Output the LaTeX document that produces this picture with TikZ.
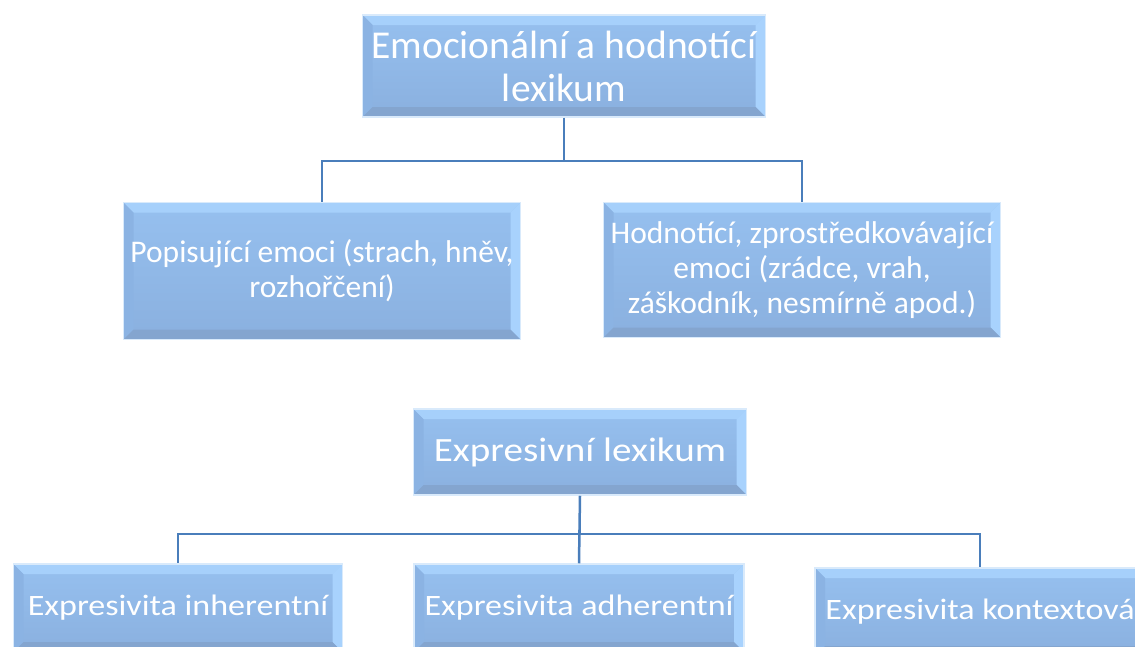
\documentclass[tikz,border=0pt]{standalone}
\usepackage{fontspec}
\setmainfont{Carlito}
\newfontfamily\widefont{Carlito}[FakeStretch=1.15]
\usetikzlibrary{calc}

\definecolor{boxtop}{HTML}{96C0EF}
\definecolor{boxbot}{HTML}{8AB0DF}
\definecolor{bevtop}{HTML}{A6D0FB}
\definecolor{bevleft}{HTML}{8BB3E3}
\definecolor{bevright}{HTML}{A8D2FD}
\definecolor{bevbot}{HTML}{84A5CF}
\definecolor{glowblue}{HTML}{D9EAFB}
\definecolor{linkblue}{HTML}{4A7EBB}

\tikzset{
  bevelbox/.style={rectangle, inner sep=0pt, align=center, text=white,
    top color=boxtop, bottom color=boxbot, draw=glowblue, line width=1.5pt,
    path picture={
      \fill[bevtop] (path picture bounding box.north west) -- (path picture bounding box.north east)
        -- ([shift={(-10pt,-10pt)}]path picture bounding box.north east)
        -- ([shift={(10pt,-10pt)}]path picture bounding box.north west) -- cycle;
      \fill[bevleft] (path picture bounding box.north west) -- (path picture bounding box.south west)
        -- ([shift={(10pt,10pt)}]path picture bounding box.south west)
        -- ([shift={(10pt,-10pt)}]path picture bounding box.north west) -- cycle;
      \fill[bevright] (path picture bounding box.north east) -- (path picture bounding box.south east)
        -- ([shift={(-10pt,10pt)}]path picture bounding box.south east)
        -- ([shift={(-10pt,-10pt)}]path picture bounding box.north east) -- cycle;
      \fill[bevbot] (path picture bounding box.south west) -- (path picture bounding box.south east)
        -- ([shift={(-10pt,10pt)}]path picture bounding box.south east)
        -- ([shift={(10pt,10pt)}]path picture bounding box.south west) -- cycle;
    }},
  bigtext/.style={font=\fontsize{39.5}{43}\selectfont},
  midtext/.style={font=\fontsize{31.5}{35}\selectfont},
  widebig/.style={font=\widefont\fontsize{34}{40}\selectfont},
  widemid/.style={font=\widefont\fontsize{29.6}{34}\selectfont},
  conn/.style={draw=linkblue, line width=2.5pt}
}

\begin{document}
\begin{tikzpicture}[x=1pt, y=-1pt]
  \useasboundingbox (0,0) rectangle (1135,646);
  \clip (0,0) rectangle (1135,646);

  % upper tree
  \node[bevelbox, bigtext, minimum width=403pt, minimum height=102pt] (emo) at (564,66)
    {Emocionální a hodnotící\\lexikum};
  \node[bevelbox, midtext, minimum width=397pt, minimum height=137pt] (popis) at (322,271)
    {Popisující emoci (strach, hněv,\\rozhořčení)};
  \node[bevelbox, midtext, minimum width=397pt, minimum height=135pt] (hodn) at (802,270)
    {Hodnotící, zprostředkovávající\\emoci (zrádce, vrah,\\záškodník, nesmírně apod.)};

  \draw[conn] (emo.south) -- ++(0,43) -| (popis.north);
  \draw[conn] (emo.south) -- ++(0,43) -| (hodn.north);

  % lower tree
  \node[bevelbox, widebig, minimum width=333pt, minimum height=86pt] (expr) at (580,452)
    {Expresivní lexikum};
  \node[bevelbox, widemid, minimum width=329pt, minimum height=88pt] (inher) at (178,608)
    {Expresivita inherentní};
  \node[bevelbox, widemid, minimum width=330pt, minimum height=88pt] (adher) at (579,608)
    {Expresivita adherentní};
  \node[bevelbox, widemid, minimum width=330pt, minimum height=88pt] (kont) at (980,612)
    {Expresivita kontextová};

  \draw[conn] (expr.south) -- ++(0,38) -| (inher.north);
  \draw[conn] (expr.south) -- (adher.north);
  \draw[conn] (expr.south) -- ++(0,38) -| (kont.north);
\end{tikzpicture}
\end{document}
